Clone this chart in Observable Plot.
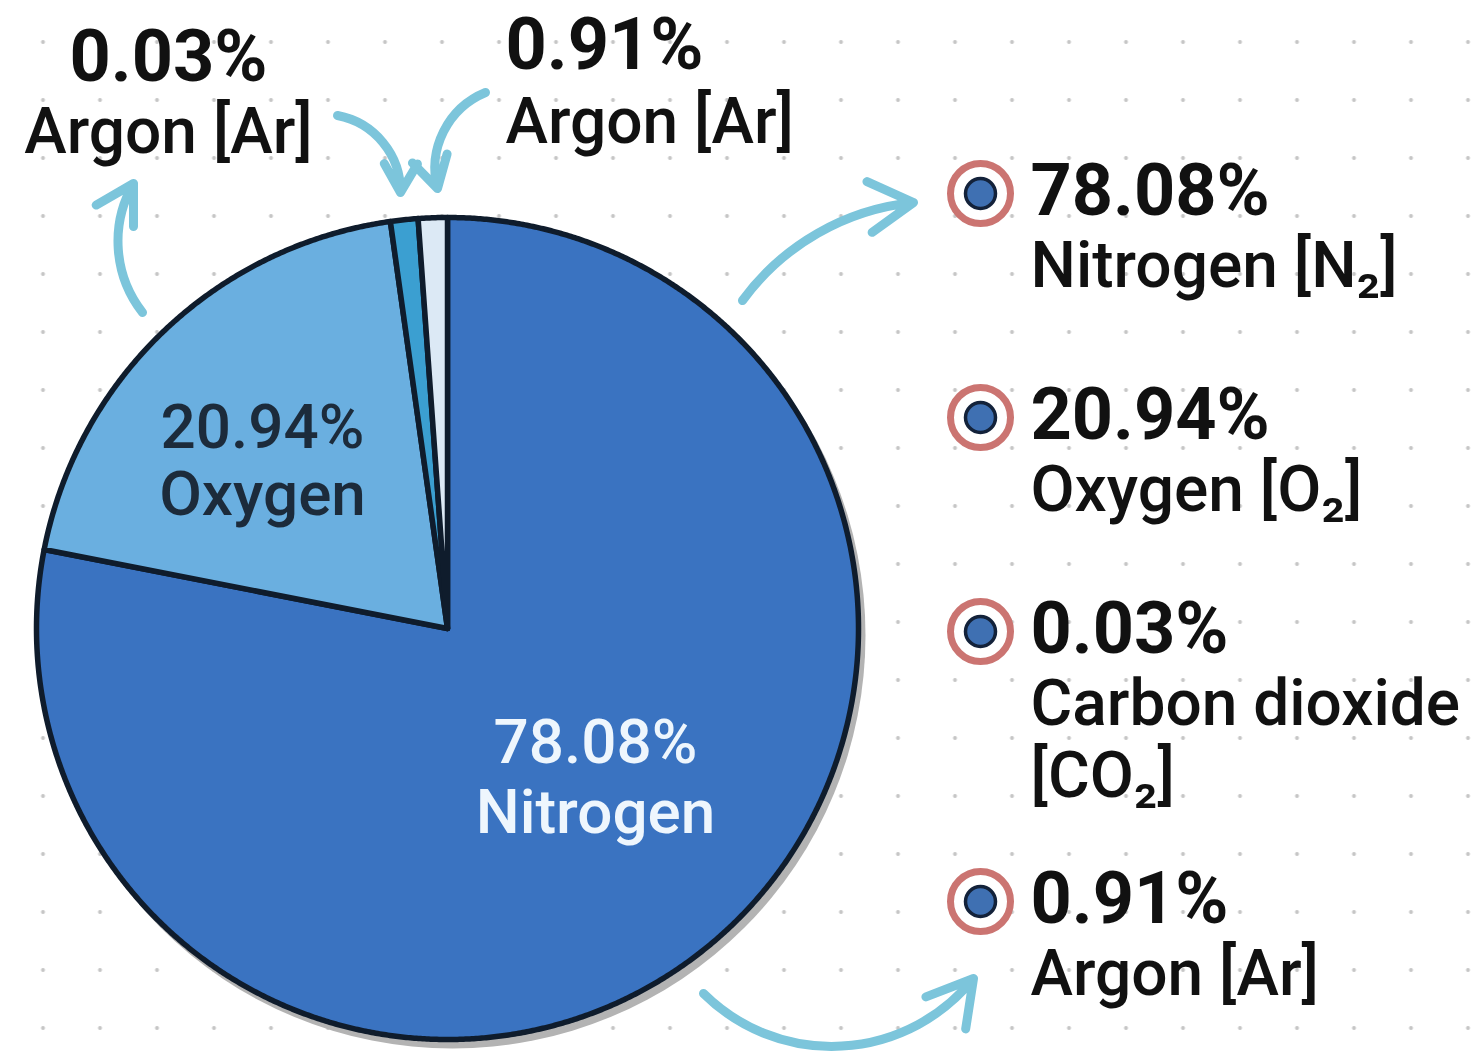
<!DOCTYPE html>
<html><head><meta charset="utf-8">
<script src="https://cdn.jsdelivr.net/npm/d3@7"></script>
<script src="https://cdn.jsdelivr.net/npm/@observablehq/plot@0.6"></script>
<style>
html,body{margin:0;padding:0;background:#fff;}
#chart{width:1482px;height:1060px;position:relative;overflow:hidden;
 background-image: radial-gradient(circle, #c6c6c6 0 1.6px, rgba(255,255,255,0) 2.3px);
 background-size: 57px 58px; background-position: 14.5px 13px;}
#chart svg{display:block;}
</style></head><body><div id="chart"></div>
<script>
// ---- data ----
const gases = ["Nitrogen", "Oxygen", "Carbon dioxide", "Argon"];
const percentLabels = ["78.08%", "20.94%", "0.03%", "0.91%"];
const legendNames = ["Nitrogen [N₂]", "Oxygen [O₂]", "Carbon dioxide\n[CO₂]", "Argon [Ar]"];
const insideNames = ["Nitrogen", "Oxygen"];
const drawnShare = [78.08, 19.70, 1.08, 1.14]; // slice sizes as drawn in the picture
const topPercents = ["0.03%", "0.91%"];
const topNames = ["Argon [Ar]", "Argon [Ar]"];
const sliceColors = ["#3a73c1", "#6aafe0", "#3b9fd1", "#dce9f5"];

// ---- layout ----
const W = 1482, H = 1060;
const cx = 447, cy = 628, R = 411;
const navy = "#0f1c2c";

const arcs = d3.pie().sort(null).value(d => d)(drawnShare);
const slicePts = arcs.flatMap((a, i) => {
  const pts = [{x: cx, y: cy, slice: gases[i]}];
  const n = Math.max(2, Math.ceil((a.endAngle - a.startAngle) / 0.005));
  for (let k = 0; k <= n; k++) {
    const ang = a.startAngle + (a.endAngle - a.startAngle) * k / n;
    pts.push({x: cx + R * Math.sin(ang), y: cy - R * Math.cos(ang), slice: gases[i]});
  }
  return pts;
});

// inside labels
const insidePos = [{x: 595, y1: 762, y2: 832, fill: "#eef6fd"}, {x: 262, y1: 447, y2: 514, fill: "#1c2b3b"}];
const insideTexts = insidePos.flatMap((p, i) => [
  {x: p.x, y: p.y1, text: percentLabels[i], fill: p.fill},
  {x: p.x, y: p.y2, text: insideNames[i], fill: p.fill}
]);

// top annotations
const topPos = [{x: 168, y1: 80, y2: 152, anchor: "middle"}, {x: 505, y1: 68, y2: 142, anchor: "start"}];

// legend
const legendBase = [214, 438, 652, 922];
const legendStep = 72;
const ringX = 980, textX = 1030;
const legendPct = percentLabels.map((t, i) => ({x: textX, y: legendBase[i], text: t}));
const legendName = legendNames.flatMap((t, i) => t.split("\n").map((s, j) => ({x: textX, y: legendBase[i] + legendStep * (j + 1), text: s})));
const rings = legendBase.map(b => ({x: ringX, y: b - 21}));

// arrows
const arrowLayout = [
  {x1: 742, y1: 300, x2: 913, y2: 202, bend: 24},
  {x1: 703, y1: 993, x2: 973, y2: 978, bend: -48},
  {x1: 142, y1: 312, x2: 133, y2: 183, bend: 34},
  {x1: 337, y1: 115, x2: 400, y2: 192, bend: 40},
  {x1: 485, y1: 92, x2: 437, y2: 188, bend: -41}
];

const arrowMarks = arrowLayout.map(a => Plot.arrow([a], {
  x1: "x1", y1: "y1", x2: "x2", y2: "y2", bend: a.bend,
  stroke: "#7cc5db", strokeWidth: 9, headLength: 8.5, headAngle: 60,
  strokeLinecap: "round", strokeLinejoin: "round", ariaLabel: "arrows"
}));

const plot = Plot.plot({
  width: W, height: H, margin: 0,
  x: {domain: [0, W], range: [0, W], axis: null},
  y: {domain: [0, H], range: [0, H], axis: null},
  color: {domain: gases, range: sliceColors},
  style: {background: "transparent", fontFamily: "Roboto, 'Noto Sans', sans-serif"},
  marks: [
    Plot.dot([{x: cx + 5, y: cy + 7}], {x: "x", y: "y", r: R + 2, fill: "#b3b3b3", ariaLabel: "shadow"}),
    Plot.line(slicePts, {x: "x", y: "y", z: "slice", fill: "slice", stroke: navy, strokeWidth: 5.5,
      strokeLinejoin: "round", curve: "linear-closed"}),
    ...arrowMarks,
    Plot.text(insideTexts, {x: "x", y: "y", text: "text", fill: "fill", fontSize: 62, fontWeight: 500,
      textAnchor: "middle", lineAnchor: "bottom"}),
    ...topPos.flatMap((p, i) => [
      Plot.text([{x: p.x, y: p.y1, t: topPercents[i]}], {x: "x", y: "y", text: "t", fill: "#111", fontSize: 72,
        fontWeight: 700, textAnchor: p.anchor, lineAnchor: "bottom"}),
      Plot.text([{x: p.x, y: p.y2, t: topNames[i]}], {x: "x", y: "y", text: "t", fill: "#111", fontSize: 64,
        fontWeight: 500, textAnchor: p.anchor, lineAnchor: "bottom"})
    ]),
    Plot.dot(rings, {x: "x", y: "y", r: 30, fill: "white", stroke: "#cb7471", strokeWidth: 7}),
    Plot.dot(rings, {x: "x", y: "y", r: 15, fill: "#3f70b2", stroke: "#13223a", strokeWidth: 3.5}),
    Plot.text(legendPct, {x: "x", y: "y", text: "text", fill: "#111", fontSize: 72, fontWeight: 700,
      textAnchor: "start", lineAnchor: "bottom"}),
    Plot.text(legendName, {x: "x", y: "y", text: "text", fill: "#111", fontSize: 64, fontWeight: 500,
      textAnchor: "start", lineAnchor: "bottom", ariaLabel: "legend-names"})
  ]
});
document.getElementById("chart").appendChild(plot);
const sh = plot.querySelector('g[aria-label="shadow"]');
if (sh) sh.style.filter = "blur(3px)";
plot.querySelectorAll('g[aria-label="arrows"]').forEach(g => g.style.filter = "drop-shadow(0 0 3px rgba(150,220,240,0.95))");
// render the subscript digit as a lowered, smaller tspan (text stays real text)
plot.querySelectorAll('g[aria-label="legend-names"] text').forEach(t => {
  const s = t.textContent;
  const k = s.indexOf("₂");
  if (k < 0) return;
  const ns = "http://www.w3.org/2000/svg";
  t.textContent = s.slice(0, k);
  const sub = document.createElementNS(ns, "tspan");
  sub.setAttribute("font-size", "42");
  sub.setAttribute("dy", "12");
  sub.textContent = "2";
  const rest = document.createElementNS(ns, "tspan");
  rest.setAttribute("dy", "-12");
  rest.textContent = s.slice(k + 1);
  t.appendChild(sub); t.appendChild(rest);
});
</script></body></html>
